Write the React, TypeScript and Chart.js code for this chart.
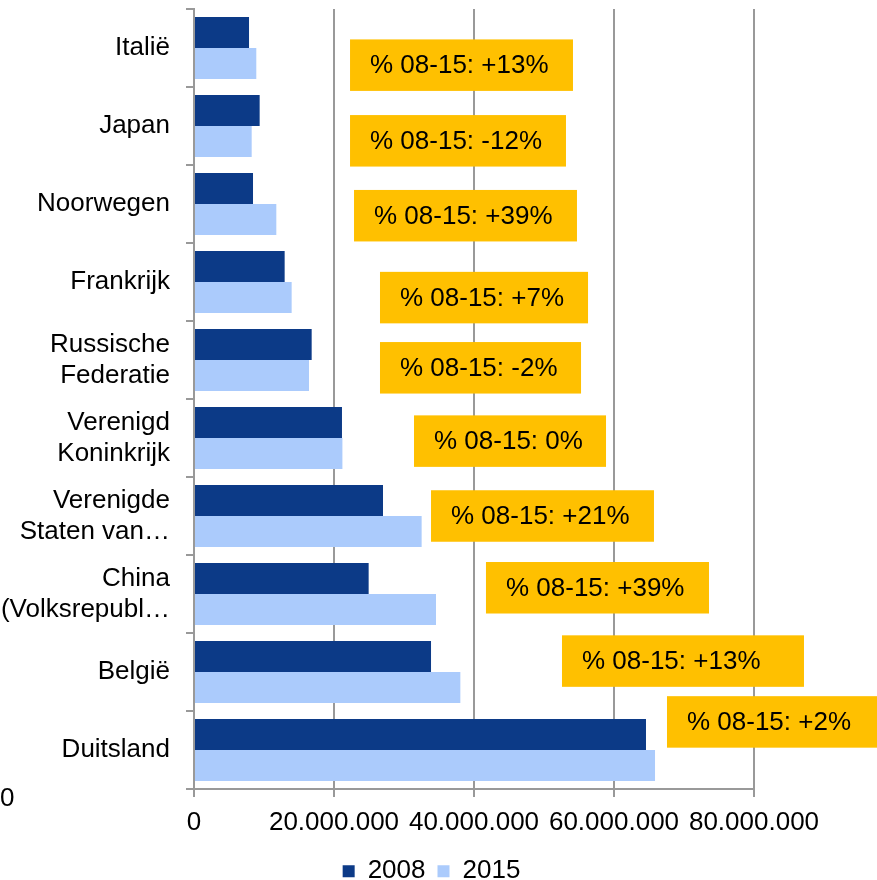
import React, { useEffect, useRef } from 'react';
import { Chart, registerables } from 'chart.js';

Chart.register(...registerables);

// ---- data ----
const categories: string[][] = [
  ['Italië'],
  ['Japan'],
  ['Noorwegen'],
  ['Frankrijk'],
  ['Russische', 'Federatie'],
  ['Verenigd', 'Koninkrijk'],
  ['Verenigde', 'Staten van…'],
  ['China', '(Volksrepubl…'],
  ['België'],
  ['Duitsland'],
];
const seriesNames = ['2008', '2015'];
const values2008 = [7.86e6, 9.38e6, 8.43e6, 12.95e6, 16.81e6, 21.14e6, 27.0e6, 24.95e6, 33.86e6, 64.57e6];
const values2015 = [8.9e6, 8.24e6, 11.76e6, 13.95e6, 16.43e6, 21.2e6, 32.52e6, 34.57e6, 38.05e6, 65.86e6];
const xTickValues = [0, 20e6, 40e6, 60e6, 80e6];
const xMax = 80e6;
const changeLabels = ['+13%', '-12%', '+39%', '+7%', '-2%', '0%', '+21%', '+39%', '+13%', '+2%'];
const changePrefix = '% 08-15: ';
// annotation box anchors (value units on the x axis, category offsets on the y axis)
const boxFrom = [22.29e6, 22.29e6, 22.86e6, 26.57e6, 26.57e6, 31.43e6, 33.86e6, 41.71e6, 52.57e6, 67.57e6];
const boxTo = [54.14e6, 53.14e6, 54.71e6, 56.29e6, 55.29e6, 58.86e6, 65.71e6, 73.57e6, 87.14e6, 100e6];
const boxOffset = [0.22, 0.19, 0.15, 0.2, 0.1, 0.04, 0, -0.08, -0.14, -0.36];
const strayLabel = '0';

// ---- styles ----
const FONT = '"Liberation Sans", Arial, Helvetica, sans-serif';
const DARK = '#0C3A87';
const LIGHT = '#ABCBFC';
const GRID = '#999999';
const BOX = '#FFC000';
const BOX_H = 51.5;

const formatNum = (v: number) =>
  String(Math.round(v)).replace(/\B(?=(\d{3})+(?!\d))/g, '.');

const boxPlugin = {
  id: 'changeBoxes',
  afterLayout(chart: any) {
    const lg = chart.legend;
    if (lg) {
      // center the legend on the full figure rather than the plot area
      lg.left = 0;
      lg.right = 863;
      lg.width = 863;
      lg.top -= 2;
      lg.bottom -= 2;
    }
  },
  afterDatasetsDraw(chart: any) {
    const { ctx, scales } = chart;
    const x = scales.x;
    const y = scales.y;
    ctx.save();
    ctx.font = `26px ${FONT}`;
    ctx.textBaseline = 'middle';
    ctx.textAlign = 'left';
    changeLabels.forEach((txt, i) => {
      const left = x.getPixelForValue(boxFrom[i]);
      const right = x.getPixelForValue(boxTo[i]);
      const cy = y.getPixelForValue(i + boxOffset[i]);
      ctx.fillStyle = BOX;
      ctx.fillRect(left, cy - BOX_H / 2, right - left, BOX_H);
      ctx.fillStyle = '#000';
      ctx.fillText(changePrefix + txt, left + 20, cy + 1);
    });
    // stray axis label at bottom-left
    ctx.fillText(strayLabel, 0, y.bottom + 10);
    ctx.restore();
  },
};

export default function App() {
  const ref = useRef<HTMLCanvasElement>(null);
  useEffect(() => {
    if (!ref.current) return;
    Chart.defaults.font.family = FONT;
    const chart = new Chart(ref.current, {
      type: 'bar',
      data: {
        labels: categories as any,
        datasets: [
          { label: seriesNames[0], data: values2008, backgroundColor: DARK, borderWidth: 0 },
          { label: seriesNames[1], data: values2015, backgroundColor: LIGHT, borderWidth: 0 },
        ],
      },
      options: {
        indexAxis: 'y',
        responsive: false,
        animation: false,
        devicePixelRatio: 1,
        datasets: { bar: { categoryPercentage: 0.795, barPercentage: 1 } },
        layout: { padding: { top: 9, left: 0, right: 123, bottom: -16.2 } },
        plugins: {
          tooltip: { enabled: false },
          legend: {
            position: 'bottom',
            labels: {
              boxWidth: 12,
              boxHeight: 12,
              padding: 12,
              color: '#000',
              font: { size: 26, family: FONT },
            },
          },
        },
        scales: {
          x: {
            min: 0,
            max: xMax,
            grid: { color: GRID, lineWidth: 2, tickLength: 8, drawTicks: true },
            border: { display: true, color: GRID, width: 2 },
            afterBuildTicks: (s: any) => {
              s.ticks = xTickValues.map((v) => ({ value: v }));
            },
            ticks: {
              padding: 10,
              maxRotation: 0,
              minRotation: 0,
              autoSkip: false,
              color: '#000',
              font: { size: 26, family: FONT },
              callback: (v: any) => formatNum(Number(v)),
            },
          },
          y: {
            grid: {
              drawOnChartArea: false,
              drawTicks: true,
              tickLength: 8,
              color: GRID,
              lineWidth: 2,
              offset: true,
            },
            border: { display: true, color: GRID, width: 2 },
            ticks: {
              autoSkip: false,
              crossAlign: 'near',
              padding: 16,
              color: '#000',
              font: { size: 26, family: FONT },
            },
            afterFit: (s: any) => {
              s.width = 194;
              s.paddingTop = 0;
              s.paddingBottom = 0;
            },
          },
        },
      },
      plugins: [boxPlugin],
    } as any);
    return () => chart.destroy();
  }, []);
  return (
    <div
      style={{
        position: 'fixed',
        left: 0,
        top: 0,
        width: 877,
        height: 880,
        overflow: 'hidden',
        background: '#fff',
      }}
    >
      <canvas ref={ref} width={877} height={880} style={{ display: 'block', width: 877, height: 880 }} />
    </div>
  );
}
